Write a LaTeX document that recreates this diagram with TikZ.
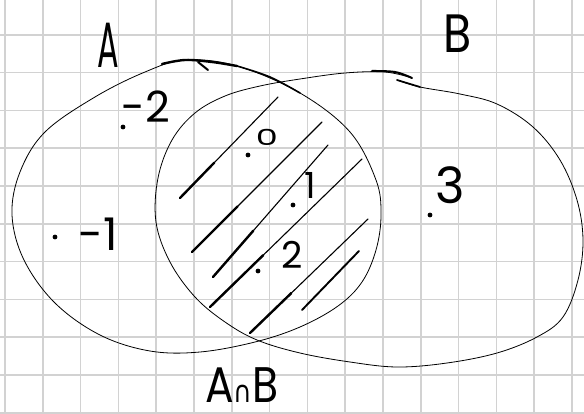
\documentclass[tikz,border=0pt]{standalone}
\usepackage{fontspec}
\setmainfont{Poppins}
\newfontfamily\djv{DejaVu Sans}
\usetikzlibrary{calc}
\newcommand\hatchstroke[2]{%
  \draw[line width=1.1pt, line cap=round] #1 -- #2;
  \draw[line width=2.4pt, line cap=round] #1 -- ($#1!0.35!#2$);}
\begin{document}
\begin{tikzpicture}[x=1pt,y=-1pt,
  gridline/.style={draw=gray!35, line width=1.6pt},
  outline/.style={draw=black, line width=0.8pt, line join=round},
  pen/.style={line cap=round, line join=round},
  dotmark/.style={fill=black},
  lbl/.style={inner sep=0pt, outer sep=0pt, text=black}]
\fill[white] (0,0) rectangle (584,414);
\useasboundingbox (0,0) rectangle (584,414);
% grid paper
\foreach \i in {0,...,15} { \draw[gridline] ({5+37.8*\i},0) -- ({5+37.8*\i},414); }
\foreach \j in {0,...,11} { \draw[gridline] (0,{-3+37.8*\j}) -- (584,{-3+37.8*\j}); }
% set A
\draw[outline] plot[smooth cycle, tension=0.6] coordinates {(185,60) (237,66) (300,93) (350,132) (376,180) (381,215) (376,250) (362,282) (338,306) (300,327) (255,342) (200,352) (150,351) (100,335) (55,303) (24,260) (12,215) (20,172) (45,132) (95,97) (145,72)};
\draw[pen, line width=2.4pt] plot[smooth, tension=0.6] coordinates {(162,64) (185,60) (212,62) (237,66)};
\draw[pen, line width=1.6pt] plot[smooth, tension=0.6] coordinates {(237,66) (270,77) (300,93)};
\draw[pen, line width=2pt] (198,62) -- (208,70);
% set B
\draw[outline] plot[smooth, tension=0.6] coordinates {(397,80) (420,87) (460,94) (497,104) (533,127) (560,160) (577,200) (583,240) (578,280) (563,317) (537,337) (497,353) (447,363) (397,367) (350,362) (300,353) (257,340) (225,322) (195,297) (170,262) (156,222) (158,178) (172,140) (195,113) (225,96) (260,86) (300,79) (345,73) (385,72) (412,78)};
\draw[pen, line width=2pt] plot[smooth, tension=0.6] coordinates {(372,71) (395,72) (412,78)};
\draw[pen, line width=1.7pt] (397,80) -- (420,87);
% hatching of the intersection
\hatchstroke{(180,198)}{(278,97)}
\hatchstroke{(192,252)}{(322,122)}
\hatchstroke{(213,277)}{(328,145)}
\hatchstroke{(210,307)}{(362,159)}
\hatchstroke{(250,333)}{(368,219)}
\draw[line width=1.9pt, line cap=round] (302,310) -- (359,251);
% element dots
\foreach \p/\n in {{(123,127)}/d1, {(248,155)}/d2, {(293,205)}/d3, {(258,271)}/d4, {(55,237)}/d5, {(430,215)}/d6}
  \fill[dotmark] \p circle (2.4pt);
% labels
\node[lbl, font=\fontsize{64}{64}\selectfont, xscale=0.5] (la) at (108,45) {A};
\node[lbl, font=\fontsize{54}{54}\selectfont, xscale=0.85] (lb) at (458,34) {B};
\node[lbl, font=\fontsize{43}{43}\selectfont] (m2) at (146,107) {-2};
\node[lbl, font=\fontsize{26}{26}\selectfont, xscale=1.35, yscale=0.85] (z0) at (267,137) {0};
\node[lbl, font=\fontsize{36}{36}\selectfont] (o1) at (310,185) {1};
\node[lbl, font=\fontsize{37}{37}\selectfont] (t2) at (292,255) {2};
\node[lbl, font=\fontsize{45}{45}\selectfont] (m1) at (98,234) {-1};
\node[lbl, font=\fontsize{50}{50}\selectfont] (t3) at (450,185) {3};
\node[lbl, font=\fontsize{50}{50}\selectfont, xscale=0.85] (ab) at (242,385) {A{\djv\fontsize{30}{30}\selectfont ∩}B};
\end{tikzpicture}
\end{document}
